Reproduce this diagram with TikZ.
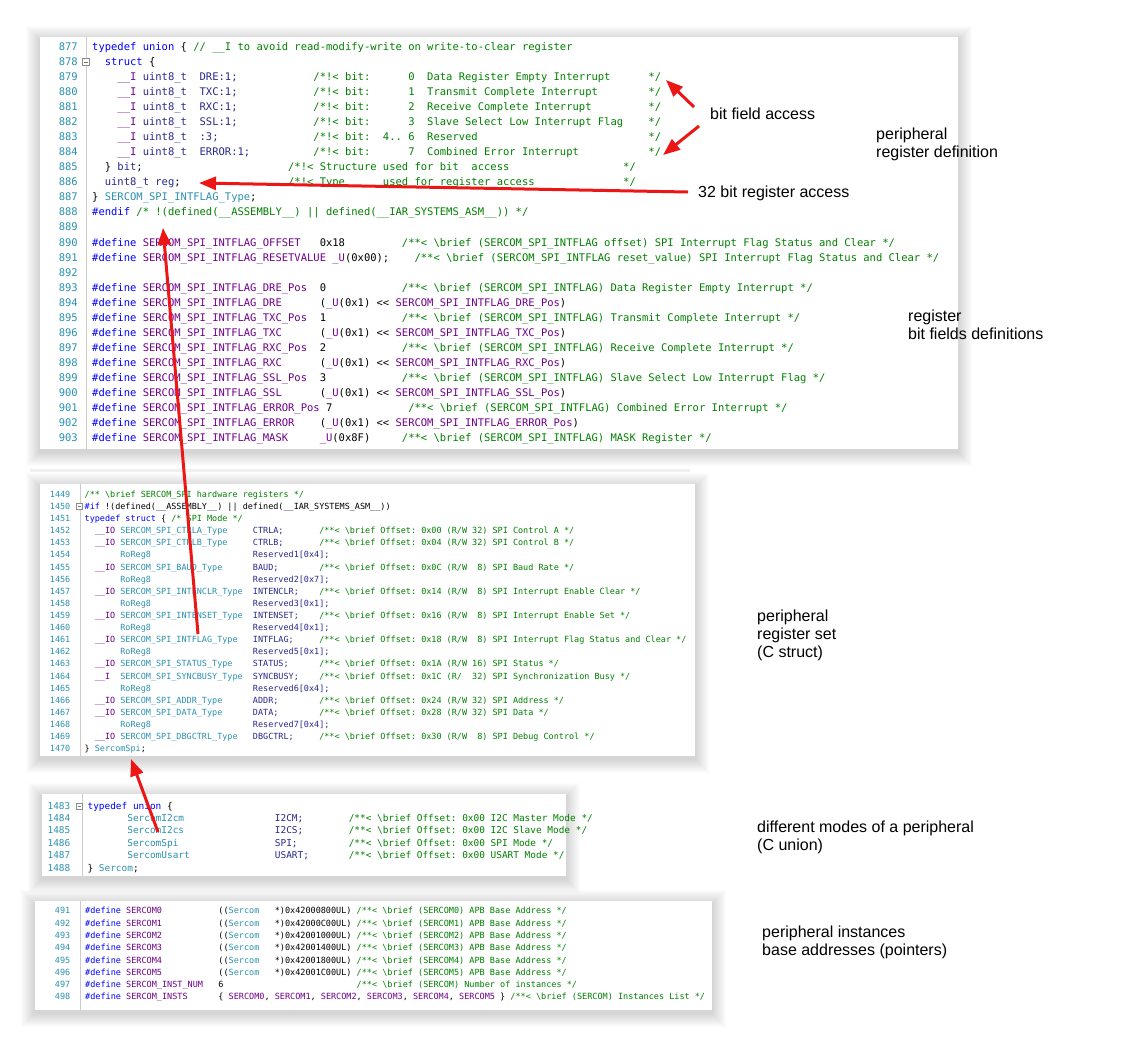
\documentclass[tikz,border=0pt]{standalone}
\usepackage{fontspec}
\setmainfont{Liberation Sans}
\newfontfamily\cf{DejaVu Sans Mono}[WordSpace={1,0,0}]
\usetikzlibrary{arrows.meta}
\definecolor{ckw}{RGB}{0,0,255}
\definecolor{ccm}{RGB}{0,128,0}
\definecolor{cmc}{RGB}{111,0,138}
\definecolor{cty}{RGB}{43,145,175}
\definecolor{cfd}{RGB}{40,40,140}
\definecolor{cln}{RGB}{43,145,175}
\definecolor{cred}{RGB}{236,22,22}
\newlength\cwd
\newcommand\SP[1]{\settowidth\cwd{0}\hspace*{#1\cwd}}
\newcommand\Kw[1]{\textcolor{ckw}{#1}}
\newcommand\Cm[1]{\textcolor{ccm}{#1}}
\newcommand\Mc[1]{\textcolor{cmc}{#1}}
\newcommand\Ty[1]{\textcolor{cty}{#1}}
\newcommand\Fd[1]{\textcolor{cfd}{#1}}
\tikzset{
  codeA/.style={anchor=base west, inner sep=0pt, font=\cf\fontsize{10.5}{12}\selectfont\frenchspacing},
  numA/.style={anchor=base east, inner sep=0pt, text=cln, font=\cf\fontsize{10.5}{12}\selectfont},
  codeB/.style={anchor=base west, inner sep=0pt, font=\cf\fontsize{8.47}{10}\selectfont\frenchspacing},
  numB/.style={anchor=base east, inner sep=0pt, text=cln, font=\cf\fontsize{8.47}{10}\selectfont},
  codeC/.style={anchor=base west, inner sep=0pt, font=\cf\fontsize{9.43}{11}\selectfont\frenchspacing},
  numC/.style={anchor=base east, inner sep=0pt, text=cln, font=\cf\fontsize{9.43}{11}\selectfont},
  codeD/.style={anchor=base west, inner sep=0pt, font=\cf\fontsize{8.51}{10}\selectfont\frenchspacing},
  numD/.style={anchor=base east, inner sep=0pt, text=cln, font=\cf\fontsize{8.51}{10}\selectfont},
  lbl/.style={anchor=base west, inner sep=0pt, font=\fontsize{16}{18.3}\selectfont},
  redarrow/.style={draw=cred, line width=3pt, -{Triangle[length=17pt,width=13pt]}},
  divider/.style={draw=black!20, line width=0.8pt},
  foldbox/.style={draw=black!45, fill=white, line width=0.5pt},
}
\newcommand\RowA[2]{\node[codeA] (ca#1) at (92,{47+15.04*(#1-877)+3.5}) {#2};\node[numA] (na#1) at (78,{47+15.04*(#1-877)+3.5}) {#1};}
\newcommand\RowB[2]{\node[codeB] (cb#1) at (84.5,{494.5+12.12*(#1-1449)+2.8}) {#2};\node[numB] (nb#1) at (70.5,{494.5+12.12*(#1-1449)+2.8}) {#1};}
\newcommand\RowC[2]{\node[codeC] (cc#1) at (87.4,{806+12.4*(#1-1483)+3.1}) {#2};\node[numC] (nc#1) at (70.5,{806+12.4*(#1-1483)+3.1}) {#1};}
\newcommand\RowD[2]{\node[codeD] (cd#1) at (85,{911+12.3*(#1-491)+2.8}) {#2};\node[numD] (nd#1) at (70.5,{911+12.3*(#1-491)+2.8}) {#1};}
\newcommand\Panel[4]{%
  \foreach \i in {1,...,14}{\fill[black,fill opacity=0.013] ({#1-\i},{#2-\i+3}) rectangle ({#3+\i},{#4+\i+3});}
  \fill[white] (#1,#2) rectangle (#3,#4);
}
\begin{document}
\begin{tikzpicture}[x=1pt,y=-1pt]
\useasboundingbox (0,0) rectangle (1132,1058);
\fill[white] (0,0) rectangle (1132,1058);

% panels
\Panel{40}{37}{958}{449}
\fill[black,fill opacity=0.06] (30,469) rectangle (690,472);
\Panel{40}{484}{695}{756}
\Panel{42}{794}{566}{876}
\Panel{35}{901}{712}{1010}

% dividers and fold markers
\draw[divider] (86,37) -- (86,449);
\draw[divider] (80.5,484) -- (80.5,756);
\draw[divider] (82.5,794) -- (82.5,876);
\draw[divider] (80.5,901) -- (80.5,1010);
\draw[foldbox] (82.5,58.5) rectangle (89.5,65.5);
\draw[black!55,line width=0.5pt] (84,62) -- (88,62);
\draw[foldbox] (76.5,503.6) rectangle (82.5,509.6);
\draw[black!55,line width=0.5pt] (77.8,506.6) -- (81.2,506.6);
\draw[foldbox] (76.5,803) rectangle (82.5,809);
\draw[black!55,line width=0.5pt] (77.8,806) -- (81.2,806);

% panel 1
\RowA{877}{\Kw{typedef union} \{ \Cm{// \_\_I to avoid read-modify-write on write-to-clear register}}
\RowA{878}{\SP{2}\Kw{struct} \{}
\RowA{879}{\SP{4}\Mc{\_\_I} \Fd{uint8\_t}\SP{2}\Fd{DRE:1;}\SP{12}\Cm{/*!< bit:\SP{6}0\SP{2}Data Register Empty Interrupt\SP{6}*/}}
\RowA{880}{\SP{4}\Mc{\_\_I} \Fd{uint8\_t}\SP{2}\Fd{TXC:1;}\SP{12}\Cm{/*!< bit:\SP{6}1\SP{2}Transmit Complete Interrupt\SP{8}*/}}
\RowA{881}{\SP{4}\Mc{\_\_I} \Fd{uint8\_t}\SP{2}\Fd{RXC:1;}\SP{12}\Cm{/*!< bit:\SP{6}2\SP{2}Receive Complete Interrupt\SP{9}*/}}
\RowA{882}{\SP{4}\Mc{\_\_I} \Fd{uint8\_t}\SP{2}\Fd{SSL:1;}\SP{12}\Cm{/*!< bit:\SP{6}3\SP{2}Slave Select Low Interrupt Flag\SP{4}*/}}
\RowA{883}{\SP{4}\Mc{\_\_I} \Fd{uint8\_t}\SP{2}\Fd{:3;}\SP{15}\Cm{/*!< bit:\SP{2}4.. 6\SP{2}Reserved\SP{27}*/}}
\RowA{884}{\SP{4}\Mc{\_\_I} \Fd{uint8\_t}\SP{2}\Fd{ERROR:1;}\SP{10}\Cm{/*!< bit:\SP{6}7\SP{2}Combined Error Interrupt\SP{11}*/}}
\RowA{885}{\SP{2}\} \Fd{bit};\SP{23}\Cm{/*!< Structure used for bit\SP{2}access\SP{18}*/}}
\RowA{886}{\SP{2}\Fd{uint8\_t} \Fd{reg};\SP{17}\Cm{/*!< Type\SP{6}used for register access\SP{14}*/}}
\RowA{887}{\} \Ty{SERCOM\_SPI\_INTFLAG\_Type};}
\RowA{888}{\Kw{\#endif} \Cm{/* !(defined(\_\_ASSEMBLY\_\_) || defined(\_\_IAR\_SYSTEMS\_ASM\_\_)) */}}
\RowA{889}{}
\RowA{890}{\Kw{\#define} \Mc{SERCOM\_SPI\_INTFLAG\_OFFSET}\SP{3}0x18\SP{9}\Cm{/**< \textbackslash brief (SERCOM\_SPI\_INTFLAG offset) SPI Interrupt Flag Status and Clear */}}
\RowA{891}{\Kw{\#define} \Mc{SERCOM\_SPI\_INTFLAG\_RESETVALUE} \Mc{\_U}(0x00);\SP{4}\Cm{/**< \textbackslash brief (SERCOM\_SPI\_INTFLAG reset\_value) SPI Interrupt Flag Status and Clear */}}
\RowA{892}{}
\RowA{893}{\Kw{\#define} \Mc{SERCOM\_SPI\_INTFLAG\_DRE\_Pos}\SP{2}0\SP{12}\Cm{/**< \textbackslash brief (SERCOM\_SPI\_INTFLAG) Data Register Empty Interrupt */}}
\RowA{894}{\Kw{\#define} \Mc{SERCOM\_SPI\_INTFLAG\_DRE}\SP{6}(\Mc{\_U}(0x1) <\kern0pt< \Mc{SERCOM\_SPI\_INTFLAG\_DRE\_Pos})}
\RowA{895}{\Kw{\#define} \Mc{SERCOM\_SPI\_INTFLAG\_TXC\_Pos}\SP{2}1\SP{12}\Cm{/**< \textbackslash brief (SERCOM\_SPI\_INTFLAG) Transmit Complete Interrupt */}}
\RowA{896}{\Kw{\#define} \Mc{SERCOM\_SPI\_INTFLAG\_TXC}\SP{6}(\Mc{\_U}(0x1) <\kern0pt< \Mc{SERCOM\_SPI\_INTFLAG\_TXC\_Pos})}
\RowA{897}{\Kw{\#define} \Mc{SERCOM\_SPI\_INTFLAG\_RXC\_Pos}\SP{2}2\SP{12}\Cm{/**< \textbackslash brief (SERCOM\_SPI\_INTFLAG) Receive Complete Interrupt */}}
\RowA{898}{\Kw{\#define} \Mc{SERCOM\_SPI\_INTFLAG\_RXC}\SP{6}(\Mc{\_U}(0x1) <\kern0pt< \Mc{SERCOM\_SPI\_INTFLAG\_RXC\_Pos})}
\RowA{899}{\Kw{\#define} \Mc{SERCOM\_SPI\_INTFLAG\_SSL\_Pos}\SP{2}3\SP{12}\Cm{/**< \textbackslash brief (SERCOM\_SPI\_INTFLAG) Slave Select Low Interrupt Flag */}}
\RowA{900}{\Kw{\#define} \Mc{SERCOM\_SPI\_INTFLAG\_SSL}\SP{6}(\Mc{\_U}(0x1) <\kern0pt< \Mc{SERCOM\_SPI\_INTFLAG\_SSL\_Pos})}
\RowA{901}{\Kw{\#define} \Mc{SERCOM\_SPI\_INTFLAG\_ERROR\_Pos} 7\SP{12}\Cm{/**< \textbackslash brief (SERCOM\_SPI\_INTFLAG) Combined Error Interrupt */}}
\RowA{902}{\Kw{\#define} \Mc{SERCOM\_SPI\_INTFLAG\_ERROR}\SP{4}(\Mc{\_U}(0x1) <\kern0pt< \Mc{SERCOM\_SPI\_INTFLAG\_ERROR\_Pos})}
\RowA{903}{\Kw{\#define} \Mc{SERCOM\_SPI\_INTFLAG\_MASK}\SP{5}\Mc{\_U}(0x8F)\SP{5}\Cm{/**< \textbackslash brief (SERCOM\_SPI\_INTFLAG) MASK Register */}}

% panel 2
\RowB{1449}{\Cm{/** \textbackslash brief SERCOM\_SPI hardware registers */}}
\RowB{1450}{\Kw{\#if} !(defined(\_\_ASSEMBLY\_\_) || defined(\_\_IAR\_SYSTEMS\_ASM\_\_))}
\RowB{1451}{\Kw{typedef struct} \{ \Cm{/* SPI Mode */}}
\RowB{1452}{\SP{2}\Mc{\_\_IO} \Ty{SERCOM\_SPI\_CTRLA\_Type}\SP{5}\Fd{CTRLA;}\SP{7}\Cm{/**< \textbackslash brief Offset: 0x00 (R/W 32) SPI Control A */}}
\RowB{1453}{\SP{2}\Mc{\_\_IO} \Ty{SERCOM\_SPI\_CTRLB\_Type}\SP{5}\Fd{CTRLB;}\SP{7}\Cm{/**< \textbackslash brief Offset: 0x04 (R/W 32) SPI Control B */}}
\RowB{1454}{\SP{7}\Ty{RoReg8}\SP{20}\Fd{Reserved1[0x4];}}
\RowB{1455}{\SP{2}\Mc{\_\_IO} \Ty{SERCOM\_SPI\_BAUD\_Type}\SP{6}\Fd{BAUD;}\SP{8}\Cm{/**< \textbackslash brief Offset: 0x0C (R/W\SP{2}8) SPI Baud Rate */}}
\RowB{1456}{\SP{7}\Ty{RoReg8}\SP{20}\Fd{Reserved2[0x7];}}
\RowB{1457}{\SP{2}\Mc{\_\_IO} \Ty{SERCOM\_SPI\_INTENCLR\_Type}\SP{2}\Fd{INTENCLR;}\SP{4}\Cm{/**< \textbackslash brief Offset: 0x14 (R/W\SP{2}8) SPI Interrupt Enable Clear */}}
\RowB{1458}{\SP{7}\Ty{RoReg8}\SP{20}\Fd{Reserved3[0x1];}}
\RowB{1459}{\SP{2}\Mc{\_\_IO} \Ty{SERCOM\_SPI\_INTENSET\_Type}\SP{2}\Fd{INTENSET;}\SP{4}\Cm{/**< \textbackslash brief Offset: 0x16 (R/W\SP{2}8) SPI Interrupt Enable Set */}}
\RowB{1460}{\SP{7}\Ty{RoReg8}\SP{20}\Fd{Reserved4[0x1];}}
\RowB{1461}{\SP{2}\Mc{\_\_IO} \Ty{SERCOM\_SPI\_INTFLAG\_Type}\SP{3}\Fd{INTFLAG;}\SP{5}\Cm{/**< \textbackslash brief Offset: 0x18 (R/W\SP{2}8) SPI Interrupt Flag Status and Clear */}}
\RowB{1462}{\SP{7}\Ty{RoReg8}\SP{20}\Fd{Reserved5[0x1];}}
\RowB{1463}{\SP{2}\Mc{\_\_IO} \Ty{SERCOM\_SPI\_STATUS\_Type}\SP{4}\Fd{STATUS;}\SP{6}\Cm{/**< \textbackslash brief Offset: 0x1A (R/W 16) SPI Status */}}
\RowB{1464}{\SP{2}\Mc{\_\_I}\SP{2}\Ty{SERCOM\_SPI\_SYNCBUSY\_Type}\SP{2}\Fd{SYNCBUSY;}\SP{4}\Cm{/**< \textbackslash brief Offset: 0x1C (R/\SP{2}32) SPI Synchronization Busy */}}
\RowB{1465}{\SP{7}\Ty{RoReg8}\SP{20}\Fd{Reserved6[0x4];}}
\RowB{1466}{\SP{2}\Mc{\_\_IO} \Ty{SERCOM\_SPI\_ADDR\_Type}\SP{6}\Fd{ADDR;}\SP{8}\Cm{/**< \textbackslash brief Offset: 0x24 (R/W 32) SPI Address */}}
\RowB{1467}{\SP{2}\Mc{\_\_IO} \Ty{SERCOM\_SPI\_DATA\_Type}\SP{6}\Fd{DATA;}\SP{8}\Cm{/**< \textbackslash brief Offset: 0x28 (R/W 32) SPI Data */}}
\RowB{1468}{\SP{7}\Ty{RoReg8}\SP{20}\Fd{Reserved7[0x4];}}
\RowB{1469}{\SP{2}\Mc{\_\_IO} \Ty{SERCOM\_SPI\_DBGCTRL\_Type}\SP{3}\Fd{DBGCTRL;}\SP{5}\Cm{/**< \textbackslash brief Offset: 0x30 (R/W\SP{2}8) SPI Debug Control */}}
\RowB{1470}{\} \Ty{SercomSpi};}

% panel 3
\RowC{1483}{\Kw{typedef union} \{}
\RowC{1484}{\SP{7}\Ty{SercomI2cm}\SP{16}\Fd{I2CM;}\SP{8}\Cm{/**< \textbackslash brief Offset: 0x00 I2C Master Mode */}}
\RowC{1485}{\SP{7}\Ty{SercomI2cs}\SP{16}\Fd{I2CS;}\SP{8}\Cm{/**< \textbackslash brief Offset: 0x00 I2C Slave Mode */}}
\RowC{1486}{\SP{7}\Ty{SercomSpi}\SP{17}\Fd{SPI;}\SP{9}\Cm{/**< \textbackslash brief Offset: 0x00 SPI Mode */}}
\RowC{1487}{\SP{7}\Ty{SercomUsart}\SP{15}\Fd{USART;}\SP{7}\Cm{/**< \textbackslash brief Offset: 0x00 USART Mode */}}
\RowC{1488}{\} \Ty{Sercom};}

% panel 4
\RowD{491}{\Kw{\#define} \Mc{SERCOM0}\SP{11}((\Ty{Sercom}\SP{3}*)0x42000800UL) \Cm{/**< \textbackslash brief (SERCOM0) APB Base Address */}}
\RowD{492}{\Kw{\#define} \Mc{SERCOM1}\SP{11}((\Ty{Sercom}\SP{3}*)0x42000C00UL) \Cm{/**< \textbackslash brief (SERCOM1) APB Base Address */}}
\RowD{493}{\Kw{\#define} \Mc{SERCOM2}\SP{11}((\Ty{Sercom}\SP{3}*)0x42001000UL) \Cm{/**< \textbackslash brief (SERCOM2) APB Base Address */}}
\RowD{494}{\Kw{\#define} \Mc{SERCOM3}\SP{11}((\Ty{Sercom}\SP{3}*)0x42001400UL) \Cm{/**< \textbackslash brief (SERCOM3) APB Base Address */}}
\RowD{495}{\Kw{\#define} \Mc{SERCOM4}\SP{11}((\Ty{Sercom}\SP{3}*)0x42001800UL) \Cm{/**< \textbackslash brief (SERCOM4) APB Base Address */}}
\RowD{496}{\Kw{\#define} \Mc{SERCOM5}\SP{11}((\Ty{Sercom}\SP{3}*)0x42001C00UL) \Cm{/**< \textbackslash brief (SERCOM5) APB Base Address */}}
\RowD{497}{\Kw{\#define} \Mc{SERCOM\_INST\_NUM}\SP{3}6\SP{26}\Cm{/**< \textbackslash brief (SERCOM) Number of instances */}}
\RowD{498}{\Kw{\#define} \Mc{SERCOM\_INSTS}\SP{6}\{ \Mc{SERCOM0}, \Mc{SERCOM1}, \Mc{SERCOM2}, \Mc{SERCOM3}, \Mc{SERCOM4}, \Mc{SERCOM5} \} \Cm{/**< \textbackslash brief (SERCOM) Instances List */}}

% labels
\node[lbl] (lbitfield) at (710,119) {bit field access};
\node[lbl] (lregdefa) at (876,139) {peripheral};
\node[lbl] (lregdefb) at (876,157.3) {register definition};
\node[lbl] (l32) at (698,197) {32 bit register access};
\node[lbl] (lbitdefa) at (908,321) {register};
\node[lbl] (lbitdefb) at (908,339.3) {bit fields definitions};
\node[lbl] (lseta) at (757,621) {peripheral};
\node[lbl] (lsetb) at (757,639.3) {register set};
\node[lbl] (lsetc) at (757,657.6) {(C struct)};
\node[lbl] (lmodesa) at (757,832) {different modes of a peripheral};
\node[lbl] (lmodesb) at (757,850.3) {(C union)};
\node[lbl] (linsta) at (762,937) {peripheral instances};
\node[lbl] (linstb) at (762,955.3) {base addresses (pointers)};

% arrows
\coordinate (a1s) at (694,107);
\coordinate (a1e) at (666,80);
\coordinate (a2s) at (699,126);
\coordinate (a2e) at (663,155);
\coordinate (a3s) at (688,192);
\coordinate (a3e) at (199,183);
\coordinate (a4s) at (198,634);
\coordinate (a4e) at (163,228);
\coordinate (a5s) at (158,832);
\coordinate (a5e) at (131,759);
\draw[redarrow] (a1s) -- (a1e);
\draw[redarrow] (a2s) -- (a2e);
\draw[redarrow] (a3s) -- (a3e);
\draw[redarrow] (a4s) -- (a4e);
\draw[redarrow] (a5s) -- (a5e);
\end{tikzpicture}
\end{document}
